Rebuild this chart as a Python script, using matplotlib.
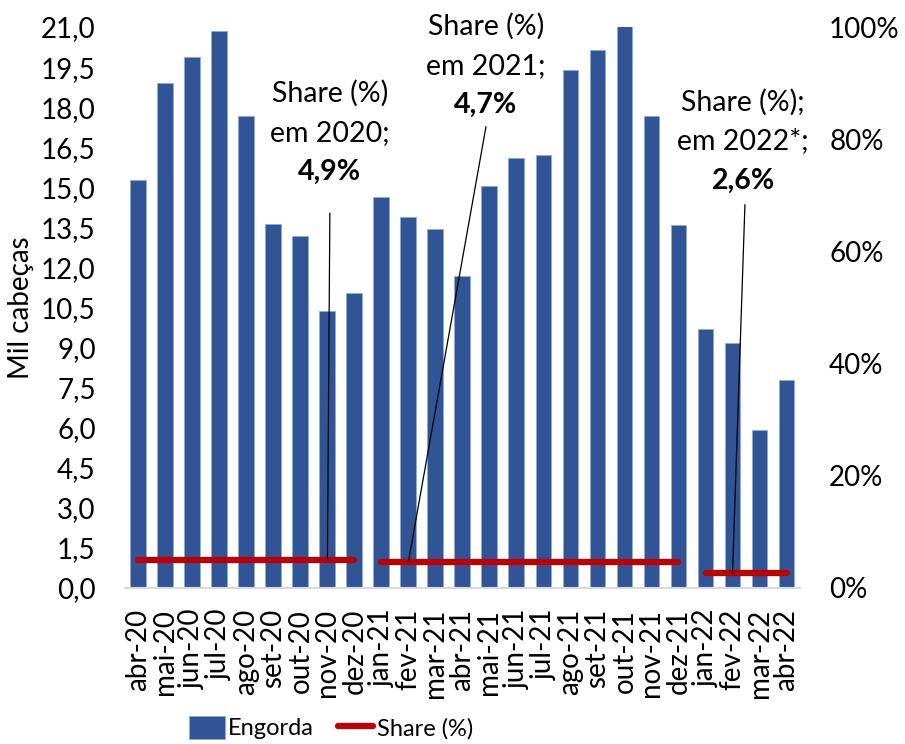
import matplotlib
matplotlib.use('Agg')
import matplotlib.pyplot as plt
import numpy as np

# monthly data, thousand head
months = ['abr-20', 'mai-20', 'jun-20', 'jul-20', 'ago-20', 'set-20', 'out-20', 'nov-20', 'dez-20',
          'jan-21', 'fev-21', 'mar-21', 'abr-21', 'mai-21', 'jun-21', 'jul-21', 'ago-21', 'set-21',
          'out-21', 'nov-21', 'dez-21', 'jan-22', 'fev-22', 'mar-22', 'abr-22']
engorda = [15.26, 18.91, 19.88, 20.85, 17.67, 13.62, 13.18, 10.37, 11.03,
           14.64, 13.88, 13.45, 11.68, 15.05, 16.11, 16.19, 19.39, 20.14,
           21.05, 17.66, 13.59, 9.71, 9.18, 5.92, 7.78]

# share (%) per year, one value per month of that year
share_2020 = [4.9, 4.9, 4.9, 4.9, 4.9, 4.9, 4.9, 4.9, 4.9]
share_2021 = [4.7, 4.7, 4.7, 4.7, 4.7, 4.7, 4.7, 4.7, 4.7, 4.7, 4.7, 4.7]
share_2022 = [2.6, 2.6, 2.6, 2.6]
share_labels = ['4,9%', '4,7%', '2,6%']
share_titles = [('Share (%)', 'em 2020;'), ('Share (%)', 'em 2021;'), ('Share (%);', 'em 2022*;')]

plt.rcParams['font.family'] = ['Lato', 'DejaVu Sans']
plt.rcParams['font.size'] = 20

blue = '#2F5597'
red = '#C00000'

fig = plt.figure(figsize=(9.05, 7.44), dpi=100)
ax = fig.add_axes([0.138, 0.2097, 0.746, 0.754])
ax2 = ax.twinx()

x = np.arange(len(months))
ax.bar(x, engorda, width=0.59, color=blue, edgecolor='#8FAADC', linewidth=0.6,
       label='Engorda', zorder=2)

ax.set_xlim(-0.5, len(months) - 0.5)
ax.set_ylim(0, 21)
ax.set_yticks(np.arange(0, 21.01, 1.5))
ax.set_yticklabels([f'{v:.1f}'.replace('.', ',') for v in np.arange(0, 21.01, 1.5)])
ax.set_xticks(x)
ax.set_xticklabels(months, rotation=90)
ax.set_ylabel('Mil cabeças')
ax.yaxis.set_label_coords(-0.134, 0.5)
ax.tick_params(axis='y', length=0, pad=21)
ax.tick_params(axis='x', length=0, pad=15)
for s in ['top', 'right', 'left']:
    ax.spines[s].set_visible(False)
ax.spines['bottom'].set_color('#D9D9D9')
ax.spines['bottom'].set_linewidth(1.5)

ax2.set_ylim(0, 100)
ax2.set_yticks(np.arange(0, 101, 20))
ax2.set_yticklabels([f'{v}%' for v in range(0, 101, 20)])
ax2.tick_params(length=0, pad=21)
for s in ax2.spines.values():
    s.set_visible(False)

idx = 0
segments = []
for vals in [share_2020, share_2021, share_2022]:
    xs = x[idx:idx + len(vals)]
    segments.append((xs, vals))
    idx += len(vals)
for i, (xs, vals) in enumerate(segments):
    ax2.plot(xs, vals, color=red, lw=4.5, solid_capstyle='round', zorder=3,
             label='Share (%)' if i == 0 else None)

# annotations: text centre x, line y's (% axis), leader top, point index
ann = [
    (7.09, (88.2, 81.1, 74.2), 66.8, 7.09, 7),
    (12.87, (100.2, 93.0, 86.1), 82.2, 12.87, 10),
    (22.39, (86.5, 79.7, 72.5), 68.3, 22.46, 22),
]
for (tx, ys, ytop, xtop, pi), (t1, t2), lab in zip(ann, share_titles, share_labels):
    ax2.text(tx, ys[0], t1, ha='center', va='center', fontsize=20.5)
    ax2.text(tx, ys[1], t2, ha='center', va='center', fontsize=20.5)
    ax2.text(tx, ys[2], lab, ha='center', va='center', fontsize=20.5, fontweight='bold')
    py = [v for xs, vals in segments for xx, v in zip(xs, vals) if xx == pi][0]
    ax2.plot([xtop, pi], [ytop, py], color='black', lw=0.9, zorder=4)

h1, l1 = ax.get_legend_handles_labels()
h2, l2 = ax2.get_legend_handles_labels()
fig.legend(h1 + h2, l1 + l2, loc='center', bbox_to_anchor=(0.366, 0.022), ncol=2,
           frameon=False, fontsize=17, handlelength=1.5, handleheight=1.1,
           columnspacing=1.0, handletextpad=0.15)

fig.savefig('out.png', dpi=100)
